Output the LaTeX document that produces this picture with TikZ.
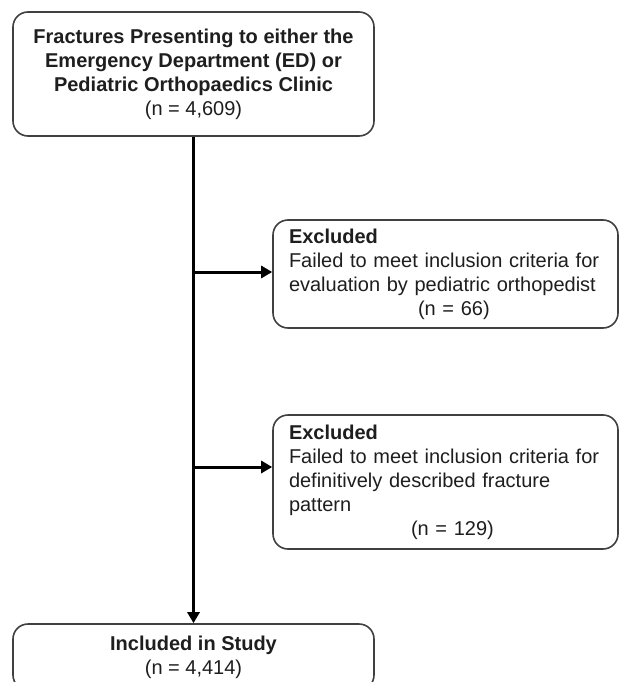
\documentclass[tikz,border=0pt]{standalone}
\usepackage{fontspec}
\setmainfont{Liberation Sans}
\usetikzlibrary{arrows.meta}

\definecolor{boxgray}{HTML}{404040}
\definecolor{inkgray}{HTML}{1E1E1E}

\tikzset{
	box/.style={draw=boxgray, line width=1.6pt, rounded corners=15pt, fill=white,
		inner sep=0pt, text=inkgray, font=\fontsize{20}{24}\selectfont},
	exclbox/.style={box, minimum width=345pt, text width=313pt, align=left},
	flow/.style={line width=3pt, -{Triangle[length=11pt,width=12pt]}},
}

\begin{document}
\begin{tikzpicture}[x=1pt, y=-1pt]
		\useasboundingbox (0,0) rectangle (625,682);
		
		%boxes
		\node[box, minimum width=361pt, minimum height=124pt, align=center] (fractures) at (193.5,74)
			{\textbf{Fractures Presenting to either the}\\
			\textbf{Emergency Department (ED) or}\\
			\textbf{Pediatric Orthopaedics Clinic}\\
			(n = 4,609)};
		\node[exclbox, minimum height=108pt] (excl1) at (445.5,274)
			{\textbf{Excluded}\\
			Failed to meet inclusion criteria for\\
			evaluation by pediatric orthopedist\\
			\hspace*{129pt}(n = 66)};
		\node[exclbox, minimum height=134pt] (excl2) at (445.5,482)
			{\textbf{Excluded}\\
			Failed to meet inclusion criteria for\\
			definitively described fracture\\
			pattern\\
			\hspace*{122pt}(n = 129)};
		\node[box, minimum width=361pt, minimum height=66pt, align=center] (included) at (193.5,657)
			{\textbf{Included in Study}\\
			(n = 4,414)};
		
		%branch points
		\coordinate (b1) at (193.5,272);
		\coordinate (b2) at (193.5,467);
		
		%arrows
		\draw[flow] (fractures.south) -- (included.north);
		\draw[flow] (b1) -- (b1 -| excl1.west);
		\draw[flow] (b2) -- (b2 -| excl2.west);
\end{tikzpicture}
\end{document}
